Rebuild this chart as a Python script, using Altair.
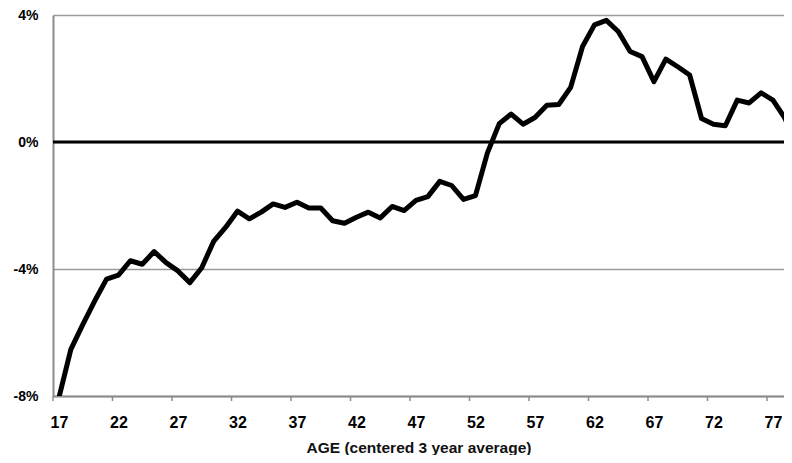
import altair as alt
import pandas as pd

ages = list(range(17, 80))
values = [-8.05, -6.53, -5.75, -5.01, -4.32, -4.19, -3.74, -3.85, -3.45, -3.80,
          -4.06, -4.43, -3.96, -3.13, -2.69, -2.18, -2.42, -2.21, -1.95, -2.06,
          -1.90, -2.08, -2.08, -2.48, -2.56, -2.37, -2.21, -2.39, -2.03, -2.16,
          -1.84, -1.72, -1.24, -1.37, -1.81, -1.69, -0.35, 0.58, 0.88, 0.56,
          0.77, 1.16, 1.18, 1.72, 3.01, 3.69, 3.83, 3.48, 2.85, 2.69,
          1.90, 2.61, 2.37, 2.11, 0.74, 0.56, 0.51, 1.32, 1.23, 1.55,
          1.32, 0.75, -0.10]
y_ticks = [4, 0, -4, -8]
x_label_ages = [17, 22, 27, 32, 37, 42, 47, 52, 57, 62, 67, 72, 77]
x_tick_bounds = [16.5, 21.5, 26.5, 31.5, 36.5, 41.5, 46.5, 51.5, 56.5, 61.5, 66.5, 71.5, 76.5]

df = pd.DataFrame({"age": ages, "value": values})

W, H = 731, 381
xscale = alt.Scale(domain=[16.5, 16.5 + W / 11.9], nice=False, zero=False)
yscale = alt.Scale(domain=[-8, 4], nice=False, zero=False)

xaxis = alt.Axis(values=x_label_ages, title="AGE (centered 3 year average)",
                 ticks=False, grid=False, domainColor="#8c8c8c", domainWidth=2,
                 labelFont="Liberation Sans", labelFontSize=16, labelFontWeight="bold",
                 labelColor="black", labelPadding=18,
                 titleFont="Liberation Sans", titleFontSize=15.5, titleFontWeight="bold",
                 titleColor="#111111", titlePadding=10)
yaxis = alt.Axis(values=y_ticks, labelExpr="datum.value + '%'", title=None,
                 ticks=False, grid=True, gridColor="#9a9a9a", gridWidth=1.5,
                 domainColor="#8c8c8c", domainWidth=2,
                 labelFont="Liberation Sans", labelFontSize=14, labelFontWeight="bold",
                 labelColor="black", labelPadding=15)

line = alt.Chart(df).mark_line(color="black", strokeWidth=5, clip=True, strokeJoin="round").encode(
    x=alt.X("age:Q", scale=xscale, axis=xaxis),
    y=alt.Y("value:Q", scale=yscale, axis=yaxis),
)

zero = alt.Chart(pd.DataFrame({"y": [0]})).mark_rule(color="black", strokeWidth=3).encode(
    y=alt.Y("y:Q", scale=yscale, axis=yaxis)
)

ticks = alt.Chart(pd.DataFrame({"b": x_tick_bounds})).mark_rule(color="#8c8c8c", strokeWidth=1.5).encode(
    x=alt.X("b:Q", scale=xscale, axis=xaxis),
    y=alt.value(H),
    y2=alt.value(H + 5),
)

chart = alt.layer(zero, line, ticks).properties(
    width=W, height=H,
    autosize=alt.AutoSizeParams(type="none"),
    padding={"left": 45, "top": 7, "right": 0, "bottom": 59},
    background="white",
).configure_view(stroke=None)

chart.save("out.html", embed_options={"renderer": "svg", "actions": False})
